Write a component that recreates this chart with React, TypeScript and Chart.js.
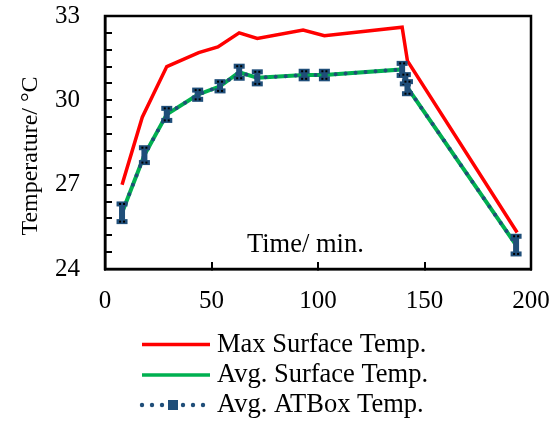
import { useEffect, useRef } from 'react';
import { Chart, registerables } from 'chart.js';

Chart.register(...registerables);

const seriesNames = ['Max Surface Temp.', 'Avg. Surface Temp.', 'Avg. ATBox Temp.'];
const xAxisTitle = 'Time/ min.';
const yAxisTitle = 'Temperature/ °C';

const maxTimes = [8, 17.5, 29, 44, 53, 63, 71.5, 93, 103, 139.5, 142, 193.5];
const maxSurfaceTemp = [27.0, 29.4, 31.2, 31.7, 31.9, 32.4, 32.2, 32.5, 32.3, 32.6, 31.4, 25.3];

const avgTimes = [8, 18.5, 29, 43.5, 54, 63, 71.5, 93.5, 103, 139.5, 141, 142, 193];
const avgSurfaceTemp = [26.0, 28.05, 29.5, 30.2, 30.5, 31.0, 30.8, 30.9, 30.9, 31.1, 30.75, 30.45, 24.85];
const avgATBoxTemp = [26.0, 28.05, 29.5, 30.2, 30.5, 31.0, 30.8, 30.9, 30.9, 31.1, 30.75, 30.45, 24.85];
const atboxError = [0.35, 0.3, 0.25, 0.2, 0.2, 0.25, 0.25, 0.17, 0.17, 0.25, 0.2, 0.25, 0.35];

const yMajorTicks = [24, 27, 30, 33];
const xTickValues = [0, 50, 100, 150, 200];

const FONT = "'Liberation Serif', 'Times New Roman', serif";
const RED = '#FF0000';
const GREEN = '#00B050';
const BLUE = '#1F4E79';

export default function App() {
  const ref = useRef<HTMLCanvasElement | null>(null);

  useEffect(() => {
    if (!ref.current) return;

    const errorBars = {
      id: 'errorBars',
      afterDatasetsDraw(chart: any) {
        const { ctx, scales } = chart;
        const xs = scales.x, ys = scales.y;
        ctx.save();
        avgTimes.forEach((t, i) => {
          const px = xs.getPixelForValue(t);
          const top = ys.getPixelForValue(avgATBoxTemp[i] + atboxError[i]);
          const bot = ys.getPixelForValue(avgATBoxTemp[i] - atboxError[i]);
          ctx.fillStyle = BLUE;
          ctx.fillRect(px - 3, top, 6, bot - top);
          ctx.fillRect(px - 5.5, top - 1.5, 11, 5);
          ctx.fillRect(px - 5.5, bot - 3.5, 11, 5);
          ctx.fillStyle = '#000';
          ctx.fillRect(px - 3, top, 2, 2);
          ctx.fillRect(px + 1, top, 2, 2);
          ctx.fillRect(px - 3, bot - 2, 2, 2);
          ctx.fillRect(px + 1, bot - 2, 2, 2);
        });
        ctx.restore();
      },
    };

    const frameAndText = {
      id: 'frameAndText',
      afterDraw(chart: any) {
        const { ctx, chartArea } = chart;
        ctx.save();
        ctx.strokeStyle = '#000';
        ctx.lineWidth = 2.5;
        ctx.strokeRect(chartArea.left, chartArea.top, chartArea.right - chartArea.left, chartArea.bottom - chartArea.top);

        // x axis title inside plot
        ctx.fillStyle = '#000';
        ctx.font = `26.5px ${FONT}`;
        ctx.textAlign = 'left';
        ctx.textBaseline = 'alphabetic';
        ctx.fillText(xAxisTitle, 247, 252);

        // y axis title
        ctx.save();
        ctx.translate(37, 156);
        ctx.rotate(-Math.PI / 2);
        ctx.font = `24px ${FONT}`;
        ctx.textAlign = 'center';
        ctx.fillText(yAxisTitle, 0, 0);
        ctx.restore();

        // legend
        const rows = [344.5, 375, 405];
        const x0 = 142, x1 = 210;
        ctx.lineCap = 'butt';
        ctx.lineWidth = 3.5;
        ctx.strokeStyle = RED;
        ctx.beginPath(); ctx.moveTo(x0, rows[0]); ctx.lineTo(x1, rows[0]); ctx.stroke();
        ctx.strokeStyle = GREEN;
        ctx.beginPath(); ctx.moveTo(x0, rows[1]); ctx.lineTo(x1, rows[1]); ctx.stroke();
        ctx.fillStyle = BLUE;
        [142, 152, 162, 183, 193, 203].forEach((dx) => {
          ctx.beginPath(); ctx.arc(dx, rows[2], 2.2, 0, Math.PI * 2); ctx.fill();
        });
        ctx.fillRect(168, rows[2] - 5, 10, 10);

        ctx.fillStyle = '#000';
        ctx.font = `26.5px ${FONT}`;
        ctx.textAlign = 'left';
        ctx.textBaseline = 'middle';
        seriesNames.forEach((n, i) => ctx.fillText(n, 217, rows[i] + 0.5));
        ctx.restore();
      },
    };

    const chart = new Chart(ref.current, {
      type: 'line',
      data: {
        datasets: [
          {
            label: seriesNames[0],
            data: maxTimes.map((t, i) => ({ x: t, y: maxSurfaceTemp[i] })),
            borderColor: RED,
            borderWidth: 3.5,
            pointRadius: 0,
            tension: 0,
            order: 3,
          },
          {
            label: seriesNames[1],
            data: avgTimes.map((t, i) => ({ x: t, y: avgSurfaceTemp[i] })),
            borderColor: GREEN,
            borderWidth: 4,
            pointRadius: 0,
            tension: 0,
            order: 2,
          },
          {
            label: seriesNames[2],
            data: avgTimes.map((t, i) => ({ x: t, y: avgATBoxTemp[i] })),
            borderColor: BLUE,
            borderWidth: 4,
            borderDash: [0, 10],
            borderCapStyle: 'round',
            pointRadius: 0,
            tension: 0,
            order: 1,
          },
        ],
      },
      options: {
        animation: false,
        responsive: false,
        devicePixelRatio: 1,
        layout: { padding: { top: 16, right: 29, bottom: 91, left: 0 } },
        plugins: { legend: { display: false }, tooltip: { enabled: false } },
        scales: {
          x: {
            type: 'linear',
            min: 0,
            max: 200,
            afterBuildTicks: (s: any) => { s.ticks = xTickValues.map((v) => ({ value: v })); },
            afterFit: (s: any) => { s.height = 61; s.paddingLeft = 0; s.paddingRight = 0; },
            ticks: { color: '#000', font: { family: FONT, size: 25 }, padding: 24, maxRotation: 0, autoSkip: false },
            grid: { drawOnChartArea: false, drawTicks: true, tickLength: -7, color: '#000', lineWidth: 2 },
            border: { display: true, color: '#000', width: 2.5 },
          },
          y: {
            type: 'linear',
            min: 24,
            max: 33,
            ticks: {
              stepSize: 0.6,
              autoSkip: false,
              color: '#000',
              font: { family: FONT, size: 25 },
              padding: 32,
              callback: (v: any) => {
                const n = Number(v);
                const m = yMajorTicks.find((t) => Math.abs(t - n) < 1e-6);
                return m === undefined ? '' : String(m);
              },
            },
            afterFit: (s: any) => { s.width = 105; s.paddingTop = 0; s.paddingBottom = 0; },
            grid: { drawOnChartArea: false, drawTicks: true, tickLength: -7, color: '#000', lineWidth: 2 },
            border: { display: true, color: '#000', width: 2.5 },
          },
        },
      },
      plugins: [errorBars, frameAndText],
    });
    return () => chart.destroy();
  }, []);

  return (
    <div style={{ position: 'absolute', left: 0, top: 0, width: 560, height: 421 }}>
      <canvas ref={ref} width={560} height={421} style={{ width: 560, height: 421 }} />
    </div>
  );
}
